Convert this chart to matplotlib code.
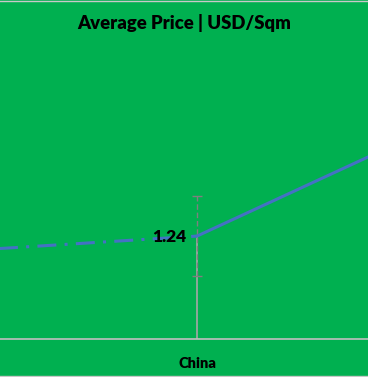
import matplotlib
matplotlib.use("Agg")
import matplotlib.pyplot as plt
from matplotlib.lines import Line2D

# Data
categories = ["", "China", ""]
values = [0.96, 1.24, 3.29]
error = [0.0, 0.48, 0.0]
title = "Average Price | USD/Sqm"
label_text = "1.24"

W, H, DPI = 368, 377, 100
fig = plt.figure(figsize=(W / DPI, H / DPI), dpi=DPI, facecolor="#00B050")
bottom_px = 339
top_px = 48.5
ax = fig.add_axes([0, (H - bottom_px) / H, 1, (bottom_px - top_px) / H])
ax.set_facecolor("#00B050")
ax.patch.set_edgecolor("none")

x = list(range(len(categories)))
blue = "#4472C4"
ax.plot(x[:2], values[:2], color=blue, lw=2.2, ls=(0, (6.2, 2.7, 1.0, 2.7)),
        solid_capstyle="butt", dash_capstyle="butt", zorder=3)
ax.plot(x[1:], values[1:], color=blue, lw=2.2, zorder=3)

# drop line
ax.vlines(x[1], 0, values[1], color="#A6A6A6", lw=1.2, zorder=2)
# error bar
eb = ax.errorbar(x[1], values[1], yerr=error[1], fmt="none", ecolor="#7F7F7F",
                 elinewidth=1.0, capsize=3.5, capthick=1.0, zorder=2)
eb[2][0].set_linestyle((0, (4, 2)))

ax.text(x[1] - 0.028, values[1] - 0.01, label_text, ha="right", va="center",
        fontsize=12.5, fontweight="heavy", family="Lato", color="black", zorder=4)

ax.set_xticks(x)
ax.set_xticklabels(categories, fontsize=10.5, fontweight="heavy", family="Lato")
ax.set_xlim(1 - 197 / 368, 1 + 171 / 368)
ax.set_ylim(0, 3.5)
ax.tick_params(axis="x", length=0, pad=13)
ax.set_yticks([])
for s in ["top", "left", "right"]:
    ax.spines[s].set_visible(False)
ax.spines["bottom"].set_color("#BFBFBF")
ax.spines["bottom"].set_linewidth(1.2)

fig.text(0.5, 1 - 23 / H, title, ha="center", va="center", fontsize=13.3,
         fontweight="heavy", family="Lato", color="black")

# outer top/bottom border lines
for yy in (1 - 0.5 / H, 0.5 / H + 0.5 / H):
    fig.lines.append(Line2D([0, 1], [yy, yy], transform=fig.transFigure,
                            color="#C8C8C8", lw=1.0))

fig.savefig("out.png", dpi=DPI, facecolor=fig.get_facecolor())
